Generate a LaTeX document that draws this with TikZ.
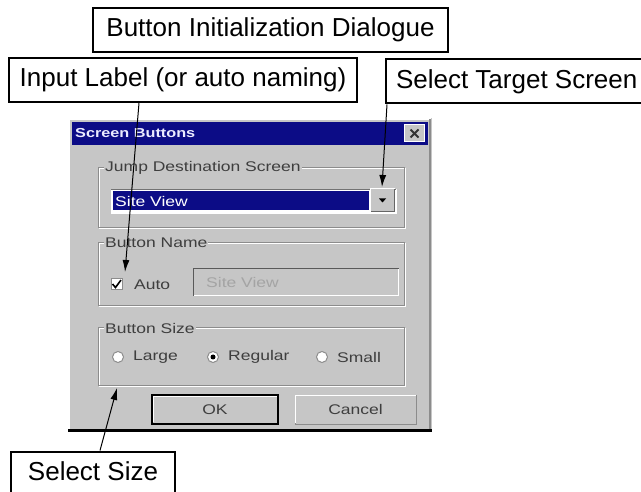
\documentclass[tikz,border=0pt]{standalone}
\usepackage{fontspec}
\setmainfont{Liberation Sans}
\newfontfamily\dlg[FakeStretch=1.25]{Liberation Sans}
\usetikzlibrary{arrows.meta}
\definecolor{dlgbg}{HTML}{C6C6C6}
\definecolor{titlebg}{HTML}{0C0C86}
\definecolor{dtext}{HTML}{3E3E3E}
\definecolor{etch}{HTML}{8C8C8C}
\definecolor{dim}{HTML}{A4A4A4}
\tikzset{
  lab/.style={draw, line width=2pt, fill=white, font=\fontsize{26}{30}\selectfont,
    minimum height=44pt, text height=19pt, text depth=5pt, inner xsep=10pt, inner ysep=0pt},
  arr/.style={line width=1pt, -{Latex[length=12pt,width=7pt]}},
  dl/.style={font=\dlg\fontsize{14}{15}\selectfont, text=dtext, inner sep=1pt},
  grp/.style={draw=etch, line width=1pt},
  grpw/.style={draw=white, line width=1pt},
  radio/.style={circle, draw=etch, fill=white, line width=1pt, minimum size=11pt, inner sep=0pt},
  pbtn/.style={draw=black, line width=1.5pt, fill=dlgbg, inner sep=0pt, font=\dlg\fontsize{14}{15}\selectfont, text=dtext}
}
\begin{document}
\begin{tikzpicture}[x=1pt,y=-1pt]
\useasboundingbox (0,0) rectangle (641,492);
\clip (0,0) rectangle (641,492);
\fill[white] (0,0) rectangle (641,492);

% ---------- dialog window ----------
\fill[dlgbg] (68,118) rectangle (432,431);
\draw[white, line width=1.5pt] (69,430) -- (69,119) -- (431,119);
\draw[etch, line width=1.5pt] (430,119) -- (430,429);
\draw[black, line width=3pt] (68,430) -- (432,430);
\fill[titlebg] (72,122) rectangle (428,145);
\node[anchor=west, font=\dlg\bfseries\fontsize{13}{15}\selectfont, text=white!92!blue, inner sep=0pt] (title) at (75,133.5) {Screen Buttons};
\node[draw=white, line width=1pt, fill=dlgbg, minimum width=20pt, minimum height=17pt, inner sep=0pt] (close) at (414.5,133.5) {};
\draw[black!80, line width=2pt] (410.5,129.5) -- (418.5,137.5) (410.5,137.5) -- (418.5,129.5);

% group 1
\draw[grpw] (99,169) rectangle (405,229);
\draw[grp] (98,168) rectangle (404,228);
\node[dl, fill=dlgbg, anchor=west] (g1) at (104,168) {Jump Destination Screen};
\fill[white] (111,189) rectangle (397,214);
\fill[black!55] (111,189) rectangle (396,190.5);
\fill[titlebg] (113,191.5) rectangle (369,210.5);
\node[dl, text=white, anchor=west] (sel) at (114,201) {Site View};
\node[fill=dlgbg, draw=white, line width=1pt, minimum width=24pt, minimum height=23pt, inner sep=0pt] (drop) at (382.5,200.5) {};
\draw[black!60, line width=1pt] (371,212) -- (394,212) -- (394,189);
\fill[black] (379,198.5) -- (386,198.5) -- (382.5,202.5) -- cycle;

% group 2
\draw[grpw] (99,244) rectangle (405,307);
\draw[grp] (98,243) rectangle (404,306);
\node[dl, fill=dlgbg, anchor=west] (g2) at (104,243) {Button Name};
\node[draw=etch, fill=white, line width=1pt, minimum size=11pt, inner sep=0pt] (chk) at (116.5,284.5) {};
\draw[black, line width=1.6pt] (112.5,284) -- (115.5,287.5) -- (121,280);
\node[dl, anchor=west] (auto) at (133,284.5) {Auto};
\fill[dlgbg] (193,268) rectangle (399,296);
\draw[black!65, line width=1.5pt] (193.5,296) -- (193.5,268.5) -- (399,268.5);
\draw[white, line width=1pt] (194,295.5) -- (398.5,295.5) -- (398.5,269);
\node[dl, text=dim, anchor=west] (sv) at (205,282) {Site View};

% group 3
\draw[grpw] (99,329) rectangle (405,386);
\draw[grp] (98,328) rectangle (404,385);
\node[dl, fill=dlgbg, anchor=west] (g3) at (104,328) {Button Size};
\node[radio] (r1) at (118,357) {};
\node[dl, anchor=west] (l1) at (132,357) {Large};
\node[radio] (r2) at (213,357) {};
\fill[black] (r2) circle (2.5);
\node[dl, anchor=west] (l2) at (227,357) {Regular};
\node[radio] (r3) at (322,357) {};
\node[dl, anchor=west] (l3) at (336,357) {Small};

% push buttons
\node[pbtn, minimum width=126pt, minimum height=29pt] (ok) at (215,409.5) {OK};
\draw[white, line width=1pt] (153.5,422) -- (153.5,396.5) -- (276.5,396.5);
\node[draw=etch, line width=1pt, fill=dlgbg, minimum width=121pt, minimum height=29pt, inner sep=0pt, font=\dlg\fontsize{14}{15}\selectfont, text=dtext] (cancel) at (355.5,409.5) {Cancel};
\draw[white, line width=1pt] (295.5,423) -- (295.5,395.5) -- (415.5,395.5);

% ---------- callout labels ----------
\node[lab, minimum width=355pt] (btnlab) at (270.5,30) {Button Initialization Dialogue};
\node[lab, minimum width=348pt] (inlab) at (183,80) {Input Label (or auto naming)};
\node[lab, anchor=west] (tgtlab) at (385,81.5) {Select Target Screen};
\node[lab, minimum width=164pt] (sizelab) at (93,473.5) {Select Size};

% ---------- connectors ----------
\coordinate (chktip) at (125,272);
\coordinate (droptip) at (382,187);
\coordinate (sizetip) at (117,388);
\draw[arr] ([xshift=-44pt]inlab.south) -- (chktip);
\draw[arr] ([xshift=2pt]tgtlab.south west) -- (droptip);
\draw[arr] ([xshift=7pt]sizelab.north) -- (sizetip);
\end{tikzpicture}
\end{document}
